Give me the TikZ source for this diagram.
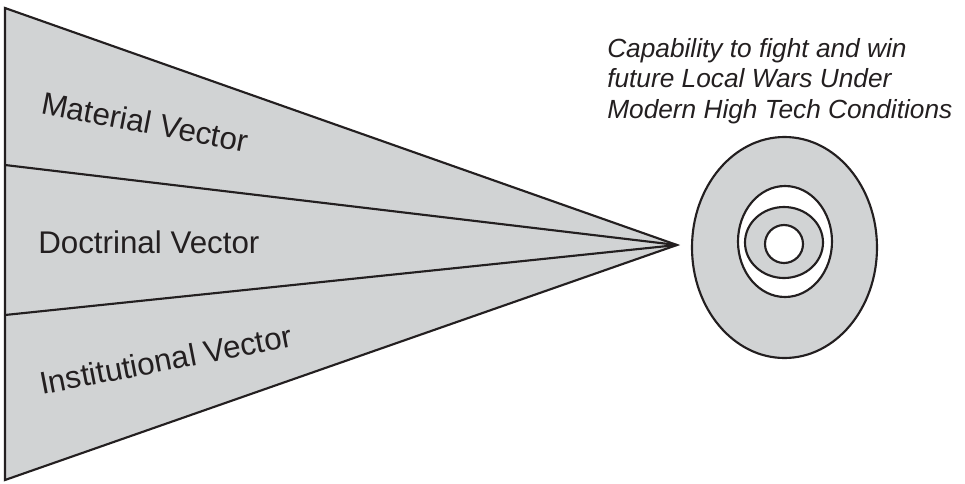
\documentclass[tikz,border=0pt]{standalone}
\usepackage{fontspec}
\setmainfont{Liberation Sans}
\definecolor{fillgray}{HTML}{D1D3D4}
\definecolor{linedark}{HTML}{231F20}
\tikzset{
  outline/.style={line width=1.6pt, draw=linedark},
  vectorlabel/.style={font=\fontsize{23.5}{28}\selectfont, text=linedark, inner sep=0pt, anchor=base west}
}
\begin{document}
\begin{tikzpicture}[x=0.75pt,y=-0.75pt]
\useasboundingbox (0,0) rectangle (965,483);

%Wedge
\draw[outline, fill=fillgray, line join=miter] (5,8) -- (677,245) -- (5,480) -- cycle;
\draw[outline] (5,165) -- (677,245);
\draw[outline] (5,315) -- (677,245);

%Vector labels
\node[vectorlabel, rotate=-11] (material) at (40,113) {Material Vector};
\node[vectorlabel] (doctrinal) at (38,253) {Doctrinal Vector};
\node[vectorlabel, rotate=11] (institutional) at (42,395) {Institutional Vector};

%Target
\draw[outline, fill=fillgray] (784.5,247.5) ellipse [x radius=92.5, y radius=110.5];
\draw[outline, fill=white] (785,241.5) ellipse [x radius=47, y radius=55.5];
\draw[outline, fill=fillgray] (784,242.5) ellipse [x radius=39, y radius=35.5];
\draw[outline, fill=white] (784,244) circle [radius=19];

%Goal text
\node[font=\itshape\fontsize{19.7}{22.9}\selectfont, text=linedark, inner sep=0pt,
      align=left, anchor=north west] (goal) at (607,38)
  {Capability to fight and win\\future Local Wars Under\\Modern High Tech Conditions};
\end{tikzpicture}
\end{document}
